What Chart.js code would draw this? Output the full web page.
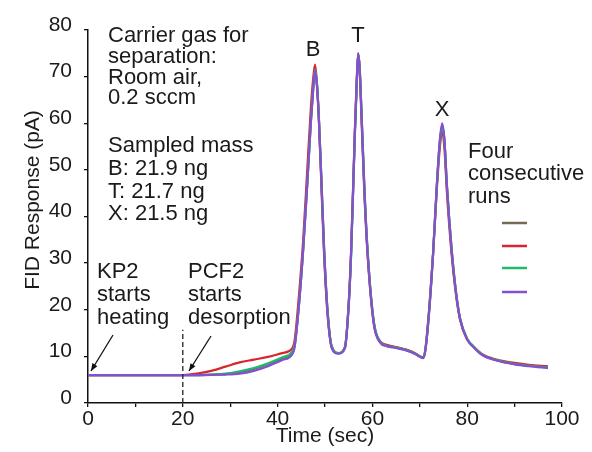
<!DOCTYPE html>
<html>
<head>
<meta charset="utf-8">
<script src="https://cdn.jsdelivr.net/npm/chart.js@4/dist/chart.umd.min.js"></script>
<style>
html,body{margin:0;padding:0;background:#fff;}
#wrap{width:592px;height:452px;}
</style>
</head>
<body>
<div id="wrap"><canvas id="c" width="592" height="452"></canvas></div>
<script>
// ---- Data ----
const timeSec = [0,10,20,23,26,29,32,35,38,41,43,43.6,44.5,45.4,46.2,47,47.5,47.9,48.3,48.7,49.3,49.8,50.5,51.4,52.8,54.2,55,55.5,56.3,56.7,57,57.3,57.7,58.3,59,60.3,61.6,63,65,67,69,70,70.7,71.2,72,72.8,73.6,74.2,74.7,75.2,75.7,76.7,77.6,78.5,80,81.3,83,86.2,90,93,97];

const run1 = [6.0,6.0,6.0,6.0,6.05,6.2,6.6,7.3,8.3,9.6,10.7,12.3,21,33,46,60,67.3,71.6,68.3,61.3,46.2,33.2,20.3,12.1,10.7,11.9,21,31.8,57.8,68.8,74.8,72.1,62.3,46.3,32.3,17.3,13.1,12.3,11.9,11.4,10.6,10.0,9.7,11.5,20,32,46.8,55.8,59.5,56.2,46.8,33,24,18,13.7,12.1,10.5,9.2,8.4,8.0,7.6];
const run2 = [6.0,6.0,6.0,6.3,6.9,7.8,8.7,9.3,9.9,10.7,11.6,13.5,23,35,49,63,69.5,72.6,68.5,61,45,32,19.5,12.2,10.7,12,21.5,32.5,58.5,69.5,75,71.5,61,45,31.5,17,13.3,12.5,12,11.5,10.7,10.0,9.8,11.8,20.5,32,46,54.5,58,54.5,45.5,32,23.5,17.8,13.6,12.1,10.6,9.3,8.6,8.2,7.9];
const run3 = [6.0,6.0,6.0,6.0,6.1,6.3,6.8,7.5,8.5,9.8,10.9,12.5,21,33,46,60,67.5,71.5,68.5,61.5,46.5,33.5,20.5,12.2,10.7,11.8,21,31.5,57.5,68.5,74.7,72.2,62.5,46.5,32.5,17.5,13.2,12.3,11.9,11.4,10.6,10.0,9.7,11.5,20,32,46.5,55.5,59.2,56.3,47,33.3,24.2,18.2,13.8,12.2,10.5,9.2,8.4,8.0,7.6];
const run4 = [6.0,6.0,6.0,6.0,6.05,6.1,6.3,6.9,7.9,9.2,10.3,12,21,33,46,60,67,71.3,68,61,46,33,20,11.8,10.6,11.8,21,32,58,69,75,72,62,46,32,17,13,12.2,11.8,11.3,10.5,9.9,9.6,11.5,20,32,47,56,60,56.5,47,33,24,18,13.6,12,10.4,9.1,8.3,7.9,7.5];

const runNames = ['Run 1','Run 2','Run 3','Run 4'];
const runColors = ['#736b55','#d7262e','#22b86e','#8450d2'];
const xTicks = [0,20,40,60,80,100];
const yTicks = [0,10,20,30,40,50,60,70,80];

const FONT = '"Liberation Sans", Arial, Helvetica, sans-serif';
const TXT = '#1a1a1a';
const FS = 22;      // annotation text
const FS_TICK = 21; // tick labels and axis titles

function pts(vals){ return timeSec.map((t,i)=>({x:t,y:vals[i]})); }
const allRuns = [run1,run2,run3,run4];
const drawOrder = [3,2,1,0]; // run4 (purple) on top

const datasets = allRuns.map((v,i)=>({
  label: runNames[i],
  data: pts(v),
  borderColor: runColors[i],
  backgroundColor: runColors[i],
  borderWidth: 2.2,
  pointRadius: 0,
  fill: false,
  cubicInterpolationMode: 'monotone',
  order: drawOrder[i]
}));

const annotate = {
  id: 'annotate',
  afterDatasetsDraw(chart){
    const ctx = chart.ctx;
    const xs = chart.scales.x, ys = chart.scales.y;
    ctx.save();
    // dashed line at t = 20
    ctx.strokeStyle = '#222';
    ctx.lineWidth = 1.3;
    ctx.setLineDash([5,3]);
    ctx.beginPath();
    ctx.moveTo(xs.getPixelForValue(20), ys.getPixelForValue(0));
    ctx.lineTo(xs.getPixelForValue(20), ys.getPixelForValue(15.7));
    ctx.stroke();
    ctx.setLineDash([]);

    // arrows
    function arrow(x1,y1,x2,y2){
      ctx.strokeStyle = '#111'; ctx.fillStyle = '#111'; ctx.lineWidth = 1.3;
      ctx.beginPath(); ctx.moveTo(x1,y1); ctx.lineTo(x2,y2); ctx.stroke();
      const a = Math.atan2(y2-y1,x2-x1), L = 8, W = 0.38;
      ctx.beginPath();
      ctx.moveTo(x2,y2);
      ctx.lineTo(x2 - L*Math.cos(a-W), y2 - L*Math.sin(a-W));
      ctx.lineTo(x2 - L*Math.cos(a+W), y2 - L*Math.sin(a+W));
      ctx.closePath(); ctx.fill();
    }
    arrow(113,335,91,371);
    arrow(211,336,189,371);

    // texts
    ctx.fillStyle = TXT;
    ctx.font = FS + 'px ' + FONT;
    ctx.textBaseline = 'middle';
    ctx.textAlign = 'left';
    const lines = [
      ['Carrier gas for',108,36],['separation:',108,57],['Room air,',108,78],['0.2 sccm',108,98],
      ['Sampled mass',108,146],['B: 21.9 ng',108,169],['T: 21.7 ng',108,192],['X: 21.5 ng',108,214],
      ['KP2',97,272],['starts',97,295],['heating',97,318],
      ['PCF2',188,272],['starts',188,295],['desorption',188,318],
      ['Four',468,152],['consecutive',468,174],['runs',468,197]
    ];
    lines.forEach(l=>ctx.fillText(l[0],l[1],l[2]));
    ctx.textAlign = 'center';
    ctx.fillText('B',313,50);
    ctx.fillText('T',358,36);
    ctx.fillText('X',442,110);

    // y axis title
    ctx.font = FS_TICK + 'px ' + FONT;
    ctx.save();
    ctx.translate(33,200);
    ctx.rotate(-Math.PI/2);
    ctx.fillText('FID Response (pA)',0,0);
    ctx.restore();

    // legend samples
    const ly = [223,246,268,292];
    ctx.lineWidth = 2.5;
    runColors.forEach((c,i)=>{
      ctx.strokeStyle = c;
      ctx.beginPath(); ctx.moveTo(502,ly[i]); ctx.lineTo(527,ly[i]); ctx.stroke();
    });
    ctx.restore();
  }
};

new Chart(document.getElementById('c'), {
  type: 'line',
  data: { datasets },
  options: {
    responsive: false,
    animation: false,
    layout: { padding: { top: 30, right: 30, left: 0, bottom: 0 } },
    plugins: { legend: { display: false }, tooltip: { enabled: false } },
    scales: {
      x: {
        type: 'linear', min: 0, max: 100,
        afterFit(s){ s.height = 49; },
        afterBuildTicks(s){ s.ticks = [0,10,20,30,40,50,60,70,80,90,100].map(v=>({value:v})); },
        ticks: {
          callback: v => xTicks.includes(v) ? String(v) : '',
          font: { size: FS_TICK, family: FONT }, color: TXT, padding: 0, maxRotation: 0, autoSkip: false
        },
        grid: { drawOnChartArea: false, drawTicks: true, tickLength: 4, color: '#111', lineWidth: 1.3 },
        border: { color: '#111', width: 1.5 },
        title: { display: true, text: 'Time (sec)', font: { size: FS_TICK, family: FONT }, color: TXT, padding: { top: 0, bottom: 3 } }
      },
      y: {
        min: 0, max: 80,
        afterFit(s){ s.width = 88; },
        afterBuildTicks(s){ s.ticks = yTicks.map(v=>({value:v})); },
        ticks: {
          font: { size: FS_TICK, family: FONT }, color: TXT, padding: 12, labelOffset: -5, autoSkip: false
        },
        grid: { drawOnChartArea: false, drawTicks: true, tickLength: 4, color: '#111', lineWidth: 1.3 },
        border: { color: '#111', width: 1.5 }
      }
    }
  },
  plugins: [annotate]
});
</script>
</body>
</html>
